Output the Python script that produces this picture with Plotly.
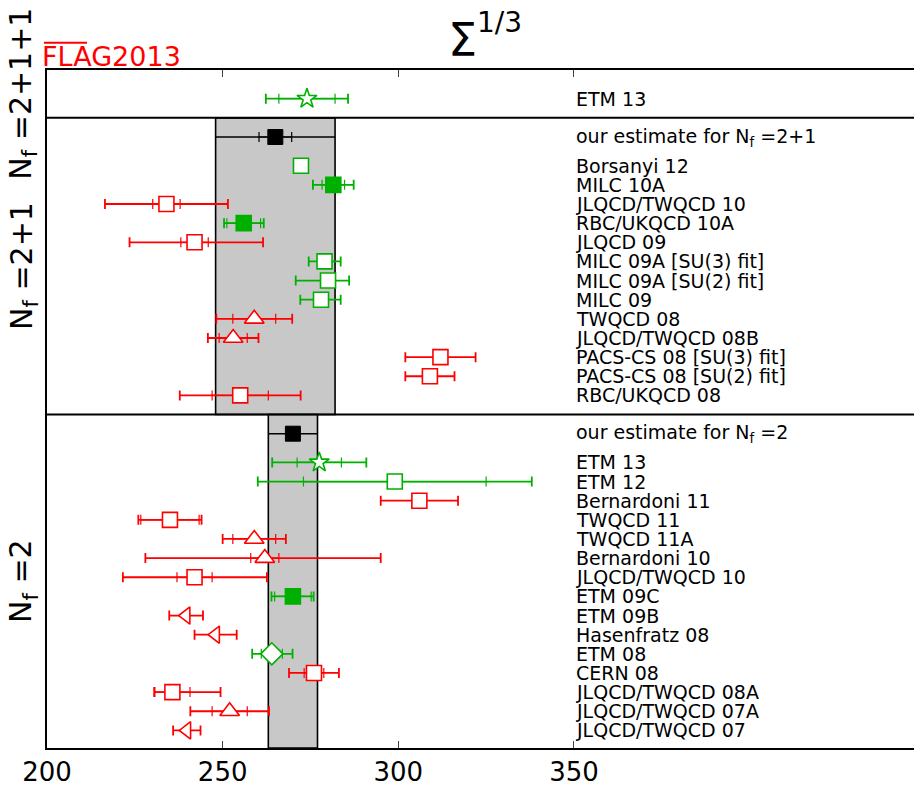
import plotly.graph_objects as go

# ---------------- data ----------------
RED = "#ff0000"
GREEN = "#00b000"
BLACK = "#000000"

# N_f = 2+1+1
names_211 = ["ETM 13"]
vals_211 = [274.0]
stat_211 = [8.0]
errm_211 = [11.7]
errp_211 = [11.7]
sym_211 = ["star"]
col_211 = [GREEN]
fill_211 = [False]

# N_f = 2+1
est_21_val = 265.0
est_21_stat = 4.65
est_21_err = 17.0
names_21 = ["Borsanyi 12", "MILC 10A", "JLQCD/TWQCD 10", "RBC/UKQCD 10A", "JLQCD 09",
            "MILC 09A [SU(3) fit]", "MILC 09A [SU(2) fit]", "MILC 09", "TWQCD 08",
            "JLQCD/TWQCD 08B", "PACS-CS 08 [SU(3) fit]", "PACS-CS 08 [SU(2) fit]",
            "RBC/UKQCD 08"]
vals_21 = [272.3, 281.5, 234.0, 256.0, 242.0, 279.0, 280.0, 278.0, 259.0, 253.0, 312.0, 309.0, 255.0]
stat_21 = [1.2, 3.2, 3.9, 4.8, 3.9, 1.5, 2.0, 1.5, 6.1, 4.0, 0.0, 0.0, 8.0]
errm_21 = [1.8, 5.8, 17.5, 5.6, 18.5, 4.5, 9.2, 5.9, 10.8, 7.2, 10.0, 7.0, 17.2]
errp_21 = [1.8, 5.8, 17.5, 5.7, 19.5, 4.6, 6.0, 5.6, 10.8, 7.2, 10.0, 7.0, 17.2]
sym_21 = ["square", "square", "square", "square", "square", "square", "square", "square",
          "triangle-up", "triangle-up", "square", "square", "square"]
col_21 = [GREEN, GREEN, RED, GREEN, RED, GREEN, GREEN, GREEN, RED, RED, RED, RED, RED]
fill_21 = [False, True, False, True, False, False, False, False, False, False, False, False, False]

# N_f = 2
est_2_val = 270.0
est_2_stat = 0.0
est_2_err = 7.0
names_2 = ["ETM 13", "ETM 12", "Bernardoni 11", "TWQCD 11", "TWQCD 11A", "Bernardoni 10",
           "JLQCD/TWQCD 10", "ETM 09C", "ETM 09B", "Hasenfratz 08", "ETM 08", "CERN 08",
           "JLQCD/TWQCD 08A", "JLQCD/TWQCD 07A", "JLQCD/TWQCD 07"]
vals_2 = [277.5, 299.0, 306.0, 235.0, 259.0, 262.0, 242.0, 270.0, 239.6, 248.0, 264.0, 276.0, 235.7, 252.0, 239.8]
stat_2 = [6.3, 26.0, 0.0, 8.3, 6.1, 4.0, 5.0, 5.2, 0.0, 0.0, 3.0, 2.8, 5.0, 5.0, 0.0]
errm_2 = [13.4, 39.0, 11.0, 9.0, 9.0, 34.0, 20.4, 6.1, 4.8, 6.0, 5.6, 7.1, 5.2, 11.2, 3.9]
errp_2 = [13.4, 39.0, 11.0, 9.0, 9.0, 33.0, 20.6, 5.9, 4.8, 6.0, 5.9, 7.1, 13.7, 11.2, 3.9]
sym_2 = ["star", "square", "square", "square", "triangle-up", "triangle-up", "square", "square",
         "triangle-left", "triangle-left", "diamond", "square", "square", "triangle-up", "triangle-left"]
col_2 = [GREEN, GREEN, RED, RED, RED, RED, RED, GREEN, RED, RED, GREEN, RED, RED, RED, RED]
fill_2 = [False, False, False, False, False, False, False, True, False, False, False, False, False, False, False]

x_ticks = [200, 250, 300, 350]
x_min, x_max = 200, 446.8
label_x = 350

# ---------------- row layout ----------------
row_211 = [1.5]
sep_1 = 2.5
row_est_21 = sep_1 + 1
rows_21 = [row_est_21 + 1.5 + i for i in range(len(names_21))]
sep_2 = rows_21[-1] + 1
row_est_2 = sep_2 + 1
rows_2 = [row_est_2 + 1.5 + i for i in range(len(names_2))]
y_bottom = rows_2[-1] + 0.92

SIZES = {"square": 15, "triangle-up": 17, "triangle-left": 15, "star": 15, "diamond": 17}

fig = go.Figure()


def add_point(x, y, sym, color, filled, stat, em, ep):
    if stat > 0:
        fig.add_trace(go.Scatter(
            x=[x], y=[y], mode="markers",
            marker=dict(size=1, color="rgba(0,0,0,0)"),
            error_x=dict(type="data", array=[stat], color=color, thickness=1.2, width=5),
            showlegend=False, hoverinfo="skip"))
    fig.add_trace(go.Scatter(
        x=[x], y=[y], mode="markers",
        marker=dict(symbol=sym, size=SIZES[sym],
                    color=color if filled else "white",
                    line=dict(color=color, width=1.6)),
        error_x=dict(type="data", symmetric=False, array=[ep], arrayminus=[em],
                     color=color, thickness=1.8, width=5),
        showlegend=False, hoverinfo="skip"))


def add_estimate(val, stat, err, y, y0, y1):
    # grey band for the averaged result
    fig.add_shape(type="rect", xref="x", yref="y", x0=val - err, x1=val + err, y0=y0, y1=y1,
                  fillcolor="#c8c8c8", line=dict(color=BLACK, width=1.6), layer="below")
    if stat > 0:
        fig.add_trace(go.Scatter(
            x=[val], y=[y], mode="markers", marker=dict(size=1, color="rgba(0,0,0,0)"),
            error_x=dict(type="data", array=[stat], color=BLACK, thickness=1.2, width=5),
            showlegend=False, hoverinfo="skip"))
    fig.add_trace(go.Scatter(
        x=[val], y=[y], mode="markers",
        marker=dict(symbol="square", size=15, color=BLACK, line=dict(color=BLACK, width=1)),
        error_x=dict(type="data", array=[err], color=BLACK, thickness=1.6, width=0),
        showlegend=False, hoverinfo="skip"))


add_estimate(est_21_val, est_21_stat, est_21_err, row_est_21, sep_1, sep_2)
add_estimate(est_2_val, est_2_stat, est_2_err, row_est_2, sep_2, y_bottom)

groups = [
    (names_211, vals_211, stat_211, errm_211, errp_211, sym_211, col_211, fill_211, row_211),
    (names_21, vals_21, stat_21, errm_21, errp_21, sym_21, col_21, fill_21, rows_21),
    (names_2, vals_2, stat_2, errm_2, errp_2, sym_2, col_2, fill_2, rows_2),
]

annotations = []
label_font = dict(family="DejaVu Sans", size=19, color=BLACK)
for names, vals, stats, ems, eps, syms, cols, fills, rows in groups:
    for n, v, s, em, ep, sy, c, f, r in zip(names, vals, stats, ems, eps, syms, cols, fills, rows):
        add_point(v, r, sy, c, f, s, em, ep)
        annotations.append(dict(x=label_x, y=r, xref="x", yref="y", text=n, showarrow=False,
                                xanchor="left", yanchor="middle", font=label_font))

annotations.append(dict(x=label_x, y=row_est_21, xref="x", yref="y",
                        text="our estimate for N<sub>f</sub> =2+1", showarrow=False,
                        xanchor="left", yanchor="middle", font=label_font))
annotations.append(dict(x=label_x, y=row_est_2, xref="x", yref="y",
                        text="our estimate for N<sub>f</sub> =2", showarrow=False,
                        xanchor="left", yanchor="middle", font=label_font))

# panel labels on the left
panel_font = dict(family="DejaVu Sans", size=30, color=BLACK)
for txt, yc in [("N<sub>f</sub> =2+1+1", sep_1 / 2),
                ("N<sub>f</sub> =2+1", (sep_1 + sep_2) / 2),
                ("N<sub>f</sub> =2", (sep_2 + y_bottom) / 2)]:
    annotations.append(dict(x=-0.028, y=yc, xref="paper", yref="y", text=txt, textangle=-90,
                            showarrow=False, xanchor="center", yanchor="middle", font=panel_font))

# quantity title: Sigma with exponent 1/3
annotations.append(dict(x=0.46, y=1.002, xref="paper", yref="paper",
                        text="Σ", showarrow=False, xanchor="left", yanchor="bottom",
                        font=dict(family="DejaVu Sans", size=46, color=BLACK)))
annotations.append(dict(x=0.494, y=1.0432, xref="paper", yref="paper",
                        text="1/3", showarrow=False, xanchor="left", yanchor="bottom",
                        font=dict(family="DejaVu Sans", size=28, color=BLACK)))
# FLAG logo
annotations.append(dict(x=-0.0076, y=0.9945, xref="paper", yref="paper",
                        text="FLAG2013", showarrow=False, xanchor="left", yanchor="bottom",
                        font=dict(family="DejaVu Sans", size=27, color=RED)))

shapes = list(fig.layout.shapes)
for s in (sep_1, sep_2):
    shapes.append(dict(type="line", xref="paper", yref="y", x0=0, x1=1, y0=s, y1=s,
                       line=dict(color=BLACK, width=2)))
# overline above "FLA"
shapes.append(dict(type="line", xref="paper", yref="paper", x0=-0.0035, x1=0.0461,
                   y0=1.0401, y1=1.0401, line=dict(color=RED, width=2)))

fig.update_layout(
    width=914, height=787,
    margin=dict(l=47, r=0, t=70, b=37),
    paper_bgcolor="white", plot_bgcolor="white",
    showlegend=False,
    shapes=shapes,
    annotations=annotations,
    xaxis=dict(range=[x_min, x_max], tickvals=x_ticks, ticktext=[str(t) for t in x_ticks],
               ticks="inside", ticklen=7, tickwidth=1, tickcolor="#444",
               showline=True, linecolor=BLACK, linewidth=2, mirror="ticks",
               showgrid=False, zeroline=False,
               tickfont=dict(family="DejaVu Sans", size=26, color=BLACK)),
    yaxis=dict(range=[y_bottom, 0], showline=True, linecolor=BLACK, linewidth=2, mirror=False,
               showticklabels=False, ticks="", showgrid=False, zeroline=False),
)

fig.write_html("out.html")
